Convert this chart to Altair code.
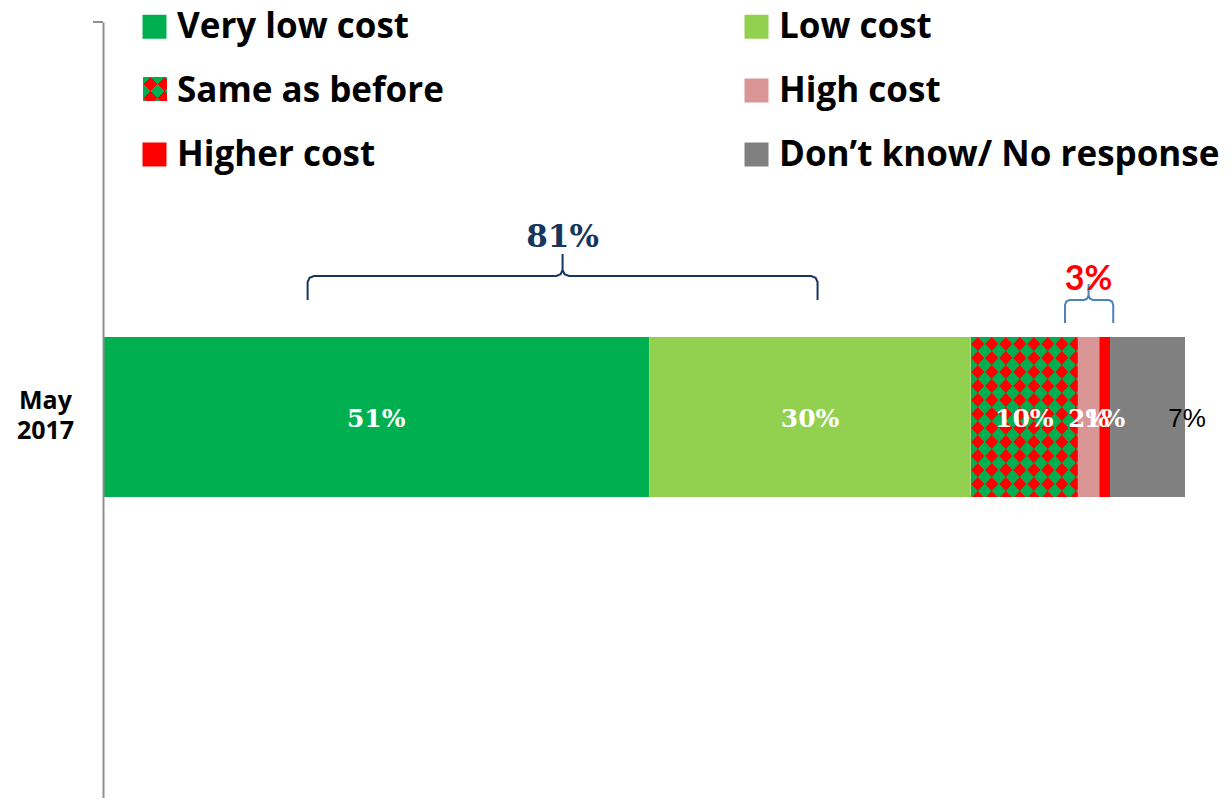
import base64
import altair as alt
import pandas as pd

# ---------------- data ----------------
periods = ["May 2017"]
categories = ["Very low cost", "Low cost", "Same as before", "High cost",
              "Higher cost", "Don\u2019t know/ No response"]
values = [51, 30, 10, 2, 1, 7]
colors = ["#00b050", "#92d050", "transparent", "#da9694", "#ff0000", "#808080"]
bar_labels = ["51%", "30%", "10%", "2%", "1%", "7%"]
group_labels = ["81%", "3%"]

# ---------------- layout constants ----------------
W, H = 1082, 776
BAR_H = 160
BAR_TOP = 315
X_MAX = sum(values)
PX = W / X_MAX

df = pd.DataFrame({"period": periods[0], "category": categories,
                   "value": values, "label": bar_labels})
df["end"] = df["value"].cumsum()
df["start"] = df["end"] - df["value"]
df["mid"] = (df["start"] + df["end"]) / 2


def pattern_uri(w, h, t=14):
    svg = (f'<svg xmlns="http://www.w3.org/2000/svg" width="{w}" height="{h}" '
           f'shape-rendering="crispEdges"><defs><pattern id="p" width="{t}" height="{t}" '
           f'patternUnits="userSpaceOnUse"><rect width="{t}" height="{t}" fill="#00b050"/>'
           f'<polygon points="{t/2},0 {t},{t/2} {t/2},{t} 0,{t/2}" fill="#ff0000"/></pattern></defs>'
           f'<rect width="{w}" height="{h}" fill="url(#p)"/></svg>')
    return "data:image/svg+xml;base64," + base64.b64encode(svg.encode()).decode()


pat = df[df["category"] == "Same as before"].copy()
pat["url"] = pattern_uri(round(pat["value"].iloc[0] * PX), BAR_H)

x_scale = alt.Scale(domain=[0, X_MAX], nice=False, zero=True)
p_in = (H - 3 * BAR_H) / (H - BAR_H)
y_band = alt.Scale(domain=periods, paddingInner=p_in, paddingOuter=1,
                   align=BAR_TOP / (H - BAR_H))

y_axis = alt.Axis(title=None, domainColor="#8f8f8f", domainWidth=2, ticks=False,
                  tickSize=0, labelFont="Open Sans", labelFontWeight="bold",
                  labelFontSize=25, labelColor="black", labelAlign="center",
                  labelBaseline="middle", labelPadding=58, labelOffset=-16,
                  labelExpr="split(datum.label, ' ')", labelLineHeight=30)

bars = alt.Chart(df).mark_rect().encode(
    x=alt.X("start:Q", scale=x_scale, axis=None),
    x2="end:Q",
    y=alt.Y("period:N", scale=y_band, axis=y_axis),
    color=alt.Color("category:N", scale=alt.Scale(domain=categories, range=colors),
                    sort=categories,
                    legend=alt.Legend(title=None, orient="none", direction="horizontal",
                                      legendX=34, legendY=-13,
                                      columns=2, columnPadding=295, rowPadding=28,
                                      padding=0, symbolType="square", symbolSize=576,
                                      symbolStrokeWidth=0, labelOffset=5,
                                      labelFont="Open Sans", labelFontWeight="bold",
                                      labelFontSize=35, labelColor="black",
                                      labelLimit=800)),
)

pattern_bar = alt.Chart(pat).mark_image(aspect=False).encode(
    x=alt.X("start:Q", scale=x_scale, axis=None),
    x2="end:Q",
    y=alt.Y("period:N", scale=y_band, axis=None),
    url="url:N",
)

legend_pat = alt.Chart(pd.DataFrame({"url": [pattern_uri(24, 24)]})).mark_image(
    width=24, height=24, align="left", baseline="top", aspect=False
).encode(x=alt.value(40), y=alt.value(55), url="url:N")

inner = alt.Chart(df[df["category"] != categories[-1]]).mark_text(
    font="DejaVu Serif", fontWeight="bold", fontSize=25, color="white",
    baseline="middle", align="center", dy=0
).encode(
    x=alt.X("mid:Q", scale=x_scale, axis=None),
    y=alt.Y("period:N", scale=y_band, axis=None),
    text="label:N",
)

outer = alt.Chart(df[df["category"] == categories[-1]]).mark_text(
    font="Liberation Sans", fontSize=26, color="black",
    baseline="middle", align="center", dy=0, dx=2
).encode(
    x=alt.X("end:Q", scale=x_scale, axis=None),
    y=alt.Y("period:N", scale=y_band, axis=None),
    text="label:N",
)


def brace(x0, xm, x1, ybot, ytop, ypeak, d, r):
    pts = [(x0, ybot), (x0, ytop + r), (x0 + 0.3 * d, ytop + 0.3 * r), (x0 + d, ytop),
           (xm - d, ytop), (xm - 0.3 * d, ytop - 0.3 * r), (xm, ytop - r), (xm, ypeak),
           (xm, ytop - r), (xm + 0.3 * d, ytop - 0.3 * r), (xm + d, ytop),
           (x1 - d, ytop), (x1 - 0.3 * d, ytop + 0.3 * r), (x1, ytop + r), (x1, ybot)]
    return pd.DataFrame({"i": range(len(pts)), "bx": [p[0] for p in pts],
                         "by": [p[1] for p in pts]})


y_px = alt.Scale(domain=[H, 0], nice=False, zero=False)


def brace_chart(bdf, color):
    return alt.Chart(bdf).mark_line(color=color, strokeWidth=2).encode(
        x=alt.X("bx:Q", scale=x_scale, axis=None),
        y=alt.Y("by:Q", scale=y_px, axis=None),
        order="i:Q",
    )


brace81 = brace_chart(brace(19.1, 42.9, 66.7, 278, 254, 232, 0.6, 6), "#17365d")
brace3 = brace_chart(brace(89.8, 92.0, 94.3, 301, 278, 262, 0.4, 5), "#4f81bd")

g81 = alt.Chart(pd.DataFrame({"x": [42.9], "t": [group_labels[0]]})).mark_text(
    font="DejaVu Serif", fontWeight="bold", fontSize=31, color="#17365d",
    baseline="middle", align="center"
).encode(x=alt.X("x:Q", scale=x_scale, axis=None), y=alt.value(216), text="t:N")

g3 = alt.Chart(pd.DataFrame({"x": [92.0], "t": [group_labels[1]]})).mark_text(
    font="Lato", fontWeight="bold", fontSize=34, color="#ff0000",
    baseline="middle", align="center"
).encode(x=alt.X("x:Q", scale=x_scale, axis=None), y=alt.value(258), text="t:N")

top_tick = alt.Chart(pd.DataFrame({"a": [0]})).mark_rule(
    color="#8f8f8f", strokeWidth=2
).encode(x=alt.value(-10), x2=alt.value(0), y=alt.value(0))

chart = alt.layer(
    bars, pattern_bar, inner, outer, brace81, brace3, g81, g3, top_tick, legend_pat
).resolve_scale(y="independent").properties(
    width=W, height=H,
    autosize=alt.AutoSizeParams(type="none"),
    padding={"left": 95, "top": 14, "right": 39, "bottom": 0},
).configure_view(stroke=None)

chart.save("out.html", embed_options={"renderer": "svg", "actions": False})
